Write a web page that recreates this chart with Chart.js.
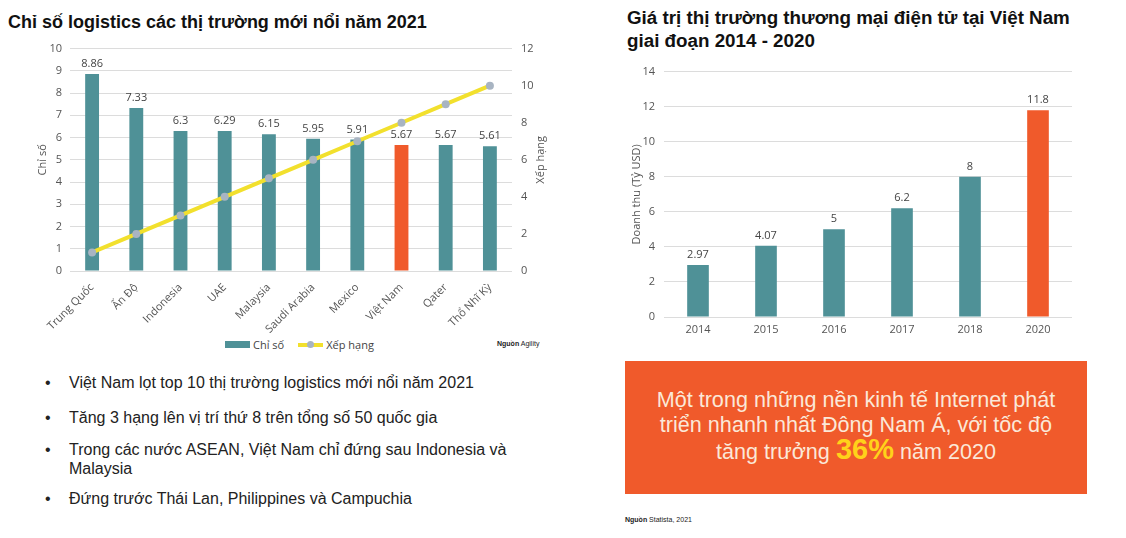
<!DOCTYPE html>
<html><head><meta charset="utf-8">
<script src="https://cdn.jsdelivr.net/npm/chart.js@4.4.1/dist/chart.umd.min.js"></script>
<style>
html,body{margin:0;padding:0;background:#fff;width:1126px;height:538px;overflow:hidden;font-family:"Liberation Sans",Arial,sans-serif;}
.abs{position:absolute;}
#t1{left:8px;top:12px;font-weight:bold;font-size:18px;color:#111;white-space:nowrap;}
#t2{left:627px;top:6px;font-weight:bold;font-size:18.8px;color:#111;line-height:23px;white-space:nowrap;}
#c1wrap{left:30px;top:33px;width:530px;height:304px;}
#c2wrap{left:610px;top:56px;width:480px;height:285px;}
#legend{left:225px;top:337px;font-family:"Open Sans",sans-serif;font-size:11px;color:#444;display:flex;align-items:center;}
.lg{display:flex;align-items:center;margin-right:14px;}
#src1{left:497px;top:340px;font-size:7px;color:#222;}
#bul{left:45px;top:373px;font-size:16px;color:#222;width:520px;}
.b{position:relative;padding-left:24px;line-height:19px;}
.b:before{content:"•";position:absolute;left:0;top:0;}
#box{left:625px;top:361px;width:462px;height:133px;background:#F05A2B;color:#FBE8D8;font-size:21.6px;text-align:center;line-height:25px;box-sizing:border-box;padding-top:26px;white-space:nowrap;}
#box b{color:#FFD21A;font-size:29px;}
#src2{left:625px;top:516px;font-size:7px;color:#222;}
</style></head>
<body>
<div id="t1" class="abs">Chỉ số logistics các thị trường mới nổi năm 2021</div>
<div id="t2" class="abs">Giá trị thị trường thương mại điện tử tại Việt Nam<br>giai đoạn 2014 - 2020</div>
<div id="c1wrap" class="abs"><canvas id="c1"></canvas></div>
<div id="c2wrap" class="abs"><canvas id="c2"></canvas></div>
<div id="legend" class="abs">
 <div class="lg"><span style="display:inline-block;width:25px;height:7px;background:#4F9197;margin-right:3px"></span>Chỉ số</div>
 <div class="lg"><span style="position:relative;display:inline-block;width:25px;height:4px;background:#F2E02D;margin-right:3px"><span style="position:absolute;left:9px;top:-2px;width:7px;height:7px;border-radius:50%;background:#A8B4C2"></span></span>Xếp hạng</div>
</div>
<div id="src1" class="abs"><b>Nguồn</b> Agility</div>
<div id="bul" class="abs">
 <div class="b" style="margin-bottom:16px">Việt Nam lọt top 10 thị trường logistics mới nổi năm 2021</div>
 <div class="b" style="margin-bottom:13px">Tăng 3 hạng lên vị trí thứ 8 trên tổng số 50 quốc gia</div>
 <div class="b" style="margin-bottom:11px">Trong các nước ASEAN, Việt Nam chỉ đứng sau Indonesia và Malaysia</div>
 <div class="b">Đứng trước Thái Lan, Philippines và Campuchia</div>
</div>
<div id="box" class="abs">Một trong những nền kinh tế Internet phát<br>triển nhanh nhất Đông Nam Á, với tốc độ<br>tăng trưởng <b>36%</b> năm 2020</div>
<div id="src2" class="abs"><b>Nguồn</b> Statista, 2021</div>
<script>
// ---- data ----
const countries = ['Trung Quốc','Ấn Độ','Indonesia','UAE','Malaysia','Saudi Arabia','Mexico','Việt Nam','Qater','Thổ Nhĩ Kỳ'];
const chiSo = [8.86, 7.33, 6.3, 6.29, 6.15, 5.95, 5.91, 5.67, 5.67, 5.61];
const xepHang = [1, 2, 3, 4, 5, 6, 7, 8, 9, 10];
const chiSoTicks = [0,1,2,3,4,5,6,7,8,9,10];
const xepHangTicks = [0,2,4,6,8,10,12];
const years = ['2014','2015','2016','2017','2018','2020'];
const doanhThu = [2.97, 4.07, 5, 6.2, 8, 11.8];
const doanhThuTicks = [0,2,4,6,8,10,12,14];
const highlightCountry = 'Việt Nam';
const highlightYear = '2020';

// ---- styles ----
const TEAL = '#4F9197', ORANGE = '#F05A2B', YELLOW = '#F2E02D', GREYPT = '#A8B4C2';
const FONT = '"Open Sans", sans-serif';
const GRID = '#DCDCDC', TXT = '#555';
Chart.defaults.font.family = FONT;
Chart.defaults.font.size = 11;
Chart.defaults.color = TXT;

const valueLabels = {
  id: 'valueLabels',
  afterDatasetsDraw(chart) {
    const ctx = chart.ctx;
    chart.data.datasets.forEach((ds, i) => {
      if (ds.type === 'line') return;
      const meta = chart.getDatasetMeta(i);
      ctx.save();
      ctx.font = '11px ' + FONT;
      ctx.fillStyle = '#444';
      ctx.textAlign = 'center';
      ctx.textBaseline = 'middle';
      meta.data.forEach((el, j) => {
        ctx.fillText(String(ds.data[j]), el.x, el.y - 10);
      });
      ctx.restore();
    });
  }
};
const rightTitle = {
  id: 'rightTitle',
  afterDraw(chart) {
    const s = chart.scales.y1; if (!s) return;
    const ctx = chart.ctx;
    ctx.save();
    ctx.translate(s.right - 19, (s.top + s.bottom) / 2);
    ctx.rotate(-Math.PI / 2);
    ctx.font = '11px ' + FONT; ctx.fillStyle = TXT;
    ctx.textAlign = 'center'; ctx.textBaseline = 'middle';
    ctx.fillText('Xếp hạng', 0, 0);
    ctx.restore();
  }
};

new Chart(document.getElementById('c1'), {
  data: {
    labels: countries,
    datasets: [
      { type: 'line', label: 'Xếp hạng', data: xepHang, yAxisID: 'y1', order: 0,
        borderColor: YELLOW, borderWidth: 4, pointBackgroundColor: GREYPT, pointBorderWidth: 0,
        pointRadius: 4, tension: 0 },
      { type: 'bar', label: 'Chỉ số', data: chiSo, yAxisID: 'y', order: 1,
        backgroundColor: countries.map(c => c === highlightCountry ? ORANGE : TEAL),
        barPercentage: 0.95, categoryPercentage: 0.33 }
    ]
  },
  options: {
    responsive: true, maintainAspectRatio: false, animation: false,
    layout: { padding: { top: 0, left: 0, right: 0, bottom: 0 } },
    plugins: { legend: { display: false }, tooltip: { enabled: false } },
    scales: {
      x: { grid: { display: false }, border: { display: false },
           ticks: { minRotation: 45, maxRotation: 45, padding: 2, color: TXT, autoSkip: false },
           afterFit: s => { s.height = 66; } },
      y: { position: 'left', min: 0, max: 10,
           afterBuildTicks: s => { s.ticks = chiSoTicks.map(v => ({ value: v })); },
           grid: { color: GRID, drawTicks: false }, border: { display: false },
           ticks: { padding: 8 },
           title: { display: true, text: 'Chỉ số', padding: { top: 6, bottom: 0 } },
           afterFit: s => { s.width = 40; } },
      y1: { position: 'right', min: 0, max: 12,
           afterBuildTicks: s => { s.ticks = xepHangTicks.map(v => ({ value: v })); },
           grid: { display: false, drawTicks: false }, border: { display: false },
           ticks: { padding: 9 },
           afterFit: s => { s.width = 48; } }
    }
  },
  plugins: [valueLabels, rightTitle]
});

new Chart(document.getElementById('c2'), {
  type: 'bar',
  data: {
    labels: years,
    datasets: [{ label: 'Doanh thu', data: doanhThu,
      backgroundColor: years.map(y => y === highlightYear ? ORANGE : TEAL),
      barPercentage: 0.95, categoryPercentage: 0.335 }]
  },
  options: {
    responsive: true, maintainAspectRatio: false, animation: false,
    layout: { padding: { top: 0, left: 0, right: 18, bottom: 0 } },
    plugins: { legend: { display: false }, tooltip: { enabled: false } },
    scales: {
      x: { grid: { display: false, drawTicks: false }, border: { display: false },
           ticks: { padding: 6, color: TXT },
           afterFit: s => { s.height = 24; } },
      y: { min: 0, max: 14,
           afterBuildTicks: s => { s.ticks = doanhThuTicks.map(v => ({ value: v })); },
           grid: { color: GRID, drawTicks: false }, border: { display: false },
           ticks: { padding: 9 },
           title: { display: true, text: 'Doanh thu (Tỷ USD)', padding: { top: 20, bottom: 0 } },
           afterFit: s => { s.width = 54; } }
    }
  },
  plugins: [valueLabels]
});
</script>
</body></html>
